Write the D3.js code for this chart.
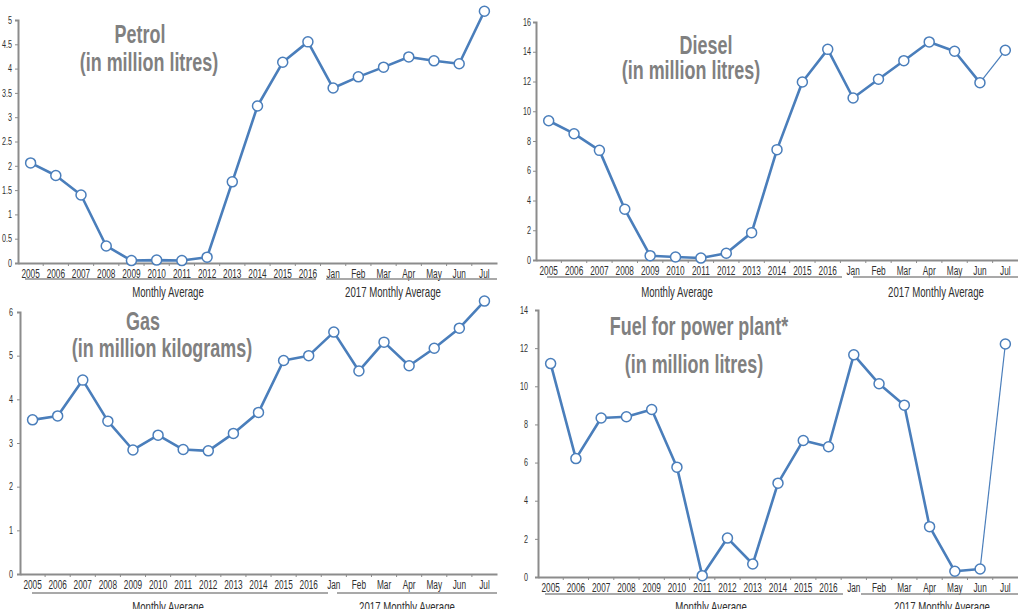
<!DOCTYPE html>
<html><head><meta charset="utf-8">
<script src="https://cdn.jsdelivr.net/npm/d3@7"></script>
<style>
html,body{margin:0;padding:0;background:#fff;}
svg{display:block;font-family:"Liberation Sans",Arial,sans-serif;}
</style></head>
<body>
<svg id="chart" width="1018" height="609"></svg>
<script>
const categories = ["2005","2006","2007","2008","2009","2010","2011","2012","2013","2014","2015","2016","Jan","Feb","Mar","Apr","May","Jun","Jul"];
const groupLabels = ["Monthly Average","2017 Monthly Average"];
const petrol = [2.06,1.80,1.40,0.35,0.05,0.06,0.05,0.12,1.67,3.23,4.13,4.55,3.60,3.83,4.03,4.24,4.16,4.10,5.18];
const diesel = [9.36,8.49,7.37,3.41,0.29,0.20,0.13,0.45,1.84,7.42,11.97,14.16,10.89,12.15,13.40,14.66,14.03,11.92,14.10];
const gas = [3.53,3.62,4.44,3.50,2.84,3.18,2.85,2.82,3.22,3.70,4.89,5.00,5.54,4.65,5.31,4.77,5.17,5.63,6.25];
const fuel = [11.19,6.21,8.34,8.40,8.78,5.76,0.07,2.04,0.68,4.92,7.16,6.83,11.65,10.13,9.01,2.64,0.30,0.42,12.22];
const petrolTicks = [0,0.5,1,1.5,2,2.5,3,3.5,4,4.5,5];
const dieselTicks = [0,2,4,6,8,10,12,14,16];
const gasTicks = [0,1,2,3,4,5,6];
const fuelTicks = [0,2,4,6,8,10,12,14];
const titles = {
  petrol:["Petrol","(in million litres)"],
  diesel:["Diesel","(in million litres)"],
  gas:["Gas","(in million kilograms)"],
  fuel:["Fuel for power plant*","(in million litres)"]
};

const panels = [
  {values:petrol, ticks:petrolTicks, title:titles.petrol, left:18, right:497, y0:263, yTop:20, labX:12,
   gy:279, g1:[25,316], g2:[326,497], gLabY:297, gLab1X:168, gLab2X:393,
   t1:[140,43], t2:[149,71], thinLast:false},
  {values:diesel, ticks:dieselTicks, title:titles.diesel, left:536, right:1018, y0:260, yTop:22, labX:531,
   gy:277, g1:[547,842], g2:[853,1018], gLabY:297, gLab1X:677, gLab2X:936,
   t1:[706,54], t2:[691,79], thinLast:true},
  {values:gas, ticks:gasTicks, title:titles.gas, left:20, right:497, y0:574, yTop:312, labX:13,
   gy:593, g1:[32,328], g2:[337,497], gLabY:612, gLab1X:168, gLab2X:407,
   t1:[143,330], t2:[162,357], thinLast:false},
  {values:fuel, ticks:fuelTicks, title:titles.fuel, left:538, right:1018, y0:577, yTop:310, labX:528,
   gy:594, g1:[545,843], g2:[861,1018], gLabY:612, gLab1X:711, gLab2X:942,
   t1:[699,335], t2:[694,373], thinLast:true}
];

const svg = d3.select("#chart");
const blue = "#4a7ebb", axisCol = "#8c8c8c", txt = "#303030";

// horizontally condense text (no condensed font installed)
function squeeze(sel, s) {
  sel.each(function() {
    const t = d3.select(this);
    const x = +t.attr("x") || 0;
    t.attr("x", x / s).attr("transform", `scale(${s},1)`);
  });
}

panels.forEach(p => {
  const g = svg.append("g");
  const x = d3.scaleBand().domain(categories).range([p.left, p.right]).paddingInner(0).paddingOuter(0);
  const yMax = p.ticks[p.ticks.length-1];
  const y = d3.scaleLinear().domain([0, yMax]).range([p.y0, p.yTop]);
  const cx = d => x(d) + x.bandwidth()/2;

  // title
  const tt = g.append("g");
  tt.append("text").attr("x", p.t1[0]).attr("y", p.t1[1]).attr("text-anchor","middle")
    .attr("font-size", 26).attr("font-weight","bold").attr("fill","#808080").text(p.title[0]);
  tt.append("text").attr("x", p.t2[0]).attr("y", p.t2[1]).attr("text-anchor","middle")
    .attr("font-size", 26).attr("font-weight","bold").attr("fill","#808080").text(p.title[1]);
  squeeze(tt.selectAll("text"), 0.69);

  // y axis
  const ya = d3.axisLeft(y).tickValues(p.ticks).tickSize(3).tickPadding(p.left - p.labX - 3)
    .tickFormat(d3.format("~g"));
  const yg = g.append("g").attr("transform", `translate(${p.left},0)`).call(ya);
  yg.attr("font-family", null);
  yg.select(".domain").attr("stroke", axisCol).attr("stroke-width", 2);
  yg.selectAll(".tick line").attr("stroke", axisCol);
  yg.selectAll(".tick text").attr("font-size", 10).attr("fill", txt);
  squeeze(yg.selectAll(".tick text"), 0.72);

  // x axis
  const xa = d3.axisBottom(x).tickSize(0).tickPadding(6).tickSizeOuter(0);
  const xg = g.append("g").attr("transform", `translate(0,${p.y0})`).call(xa);
  xg.attr("font-family", null);
  xg.select(".domain").attr("stroke", axisCol).attr("stroke-width", 2);
  xg.selectAll(".tick text").attr("font-size", 12.5).attr("fill", txt);
  squeeze(xg.selectAll(".tick text"), 0.66);
  // small ticks at band boundaries
  g.append("g").selectAll("line").data(categories.slice(1)).join("line")
    .attr("x1", d => x(d)).attr("x2", d => x(d))
    .attr("y1", p.y0).attr("y2", p.y0 + 3)
    .attr("stroke", axisCol).attr("stroke-width", 1);

  // grouping lines and labels
  [p.g1, p.g2].forEach(r => {
    g.append("line").attr("x1", r[0]).attr("x2", r[1]).attr("y1", p.gy).attr("y2", p.gy)
      .attr("stroke", axisCol).attr("stroke-width", 1.5);
  });
  const gl = g.append("g");
  gl.append("text").attr("x", p.gLab1X).attr("y", p.gLabY).attr("text-anchor","middle")
    .attr("font-size", 14).attr("fill", txt).text(groupLabels[0]);
  gl.append("text").attr("x", p.gLab2X).attr("y", p.gLabY).attr("text-anchor","middle")
    .attr("font-size", 14).attr("fill", txt).text(groupLabels[1]);
  squeeze(gl.selectAll("text"), 0.69);

  // line
  const pts = categories.map((c,i) => ({c, v:p.values[i]}));
  const line = d3.line().x(d => cx(d.c)).y(d => y(d.v));
  const main = p.thinLast ? pts.slice(0, pts.length-1) : pts;
  g.append("path").attr("d", line(main)).attr("fill","none").attr("stroke", blue)
    .attr("stroke-width", 2.6).attr("stroke-linejoin","round");
  if (p.thinLast) {
    g.append("path").attr("d", line(pts.slice(pts.length-2))).attr("fill","none")
      .attr("stroke", blue).attr("stroke-width", 1.2);
  }
  g.append("g").selectAll("circle").data(pts).join("circle")
    .attr("cx", d => cx(d.c)).attr("cy", d => y(d.v)).attr("r", 5)
    .attr("fill","#fff").attr("stroke", blue).attr("stroke-width", 1.5);
});
</script>
</body></html>
